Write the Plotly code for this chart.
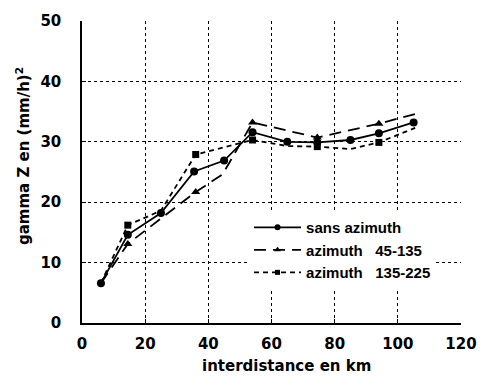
import plotly.graph_objects as go

# ---- data ----
x_sans = [6, 14.5, 25, 35.5, 45, 54, 65, 74.5, 85, 94, 105]
y_sans = [6.6, 14.6, 18.2, 25.1, 26.9, 31.6, 30.0, 29.9, 30.3, 31.4, 33.2]

x_az45 = [6, 14.5, 36, 44.5, 54, 74.5, 94, 105.5]
y_az45 = [6.6, 13.1, 21.7, 24.6, 33.2, 30.7, 33.0, 34.6]
mark_az45 = [False, True, True, False, True, True, True, False]

x_az135 = [6, 14.5, 25, 36, 54, 65, 74.5, 85, 94, 105.5]
y_az135 = [6.6, 16.2, 18.6, 27.9, 30.3, 29.3, 29.2, 28.8, 29.9, 32.3]
mark_az135 = [False, True, False, True, True, False, True, False, True, False]

names = ["sans azimuth", "azimuth   45-135", "azimuth   135-225"]
x_ticks = [0, 20, 40, 60, 80, 100, 120]
y_ticks = [0, 10, 20, 30, 40, 50]

LEG_FONT = "Liberation Sans"
AX_FONT = "DejaVu Sans"
fig = go.Figure()

series = [
    (x_sans, y_sans, [True] * len(x_sans), "solid", "circle", 8, 6),
    (x_az45, y_az45, mark_az45, "12px,7px", "triangle-up", 8, 6),
    (x_az135, y_az135, mark_az135, "5px,4px", "square", 7, 5),
]
for (xs, ys, mk, dash, sym, ms, lms), name in zip(series, names):
    fig.add_trace(go.Scatter(x=xs, y=ys, mode="lines", showlegend=False,
                             line=dict(color="black", width=1.8, dash=dash)))
    fig.add_trace(go.Scatter(x=[a for a, m in zip(xs, mk) if m],
                             y=[b for b, m in zip(ys, mk) if m],
                             mode="markers", showlegend=False,
                             marker=dict(color="black", symbol=sym, size=ms)))
    fig.add_trace(go.Scatter(x=[None], y=[None], mode="lines+markers", name=name,
                             line=dict(color="black", width=1.8, dash=dash),
                             marker=dict(color="black", symbol=sym, size=lms)))

axis_common = dict(
    showgrid=True, gridcolor="black", gridwidth=1.2, griddash="dot",
    showline=True, linecolor="black", linewidth=1.5,
    ticks="inside", ticklen=4, tickcolor="black",
    zeroline=False,
    tickfont=dict(family=AX_FONT, size=15, color="black", weight="bold"),
)
fig.update_xaxes(range=[0, 120], tickvals=x_ticks, ticklabelstandoff=6, **axis_common)
fig.update_yaxes(range=[0, 50], tickvals=y_ticks, ticklabelstandoff=16, **axis_common)

fig.add_annotation(text="interdistance en km",
                   xref="paper", yref="paper", x=(291 - 82) / 388, y=1 - (366 - 18) / 305,
                   showarrow=False, xanchor="center", yanchor="middle",
                   font=dict(family=AX_FONT, size=15, color="black", weight="bold"))
fig.add_annotation(text="gamma Z en (mm/h)<sup>2</sup>", textangle=-90,
                   xref="paper", yref="paper", x=(21 - 82) / 388, y=1 - (154 - 18) / 305,
                   showarrow=False, xanchor="center", yanchor="middle",
                   font=dict(family=AX_FONT, size=15, color="black", weight="bold"))

fig.update_layout(
    width=489, height=388,
    margin=dict(l=82, r=19, t=18, b=65),
    paper_bgcolor="white", plot_bgcolor="white",
    showlegend=True,
    legend=dict(x=(253 - 82) / 388, y=1 - (210 - 18) / 305, xanchor="left", yanchor="top",
                bgcolor="white", borderwidth=0, tracegroupgap=0, itemwidth=47,
                font=dict(family=LEG_FONT, size=15, color="black", weight="bold")),
)

fig.write_html("out.html")
